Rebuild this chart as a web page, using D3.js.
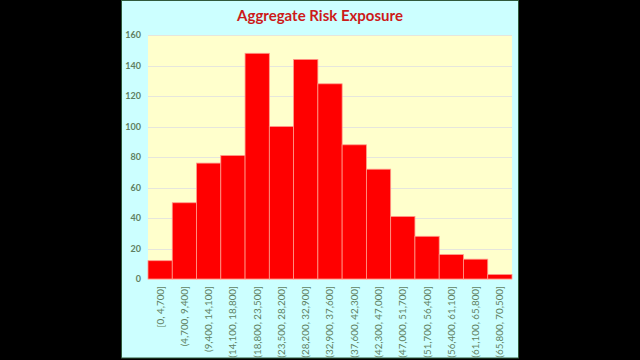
<!DOCTYPE html>
<html><head><meta charset="utf-8">
<script src="https://cdn.jsdelivr.net/npm/d3@7"></script>
<style>html,body{margin:0;padding:0;background:#000;}svg{display:block;}</style>
</head><body>
<svg id="c" width="640" height="360"></svg>
<script>
const categories = ["[0, 4,700]","(4,700, 9,400]","(9,400, 14,100]","(14,100, 18,800]","(18,800, 23,500]","(23,500, 28,200]","(28,200, 32,900]","(32,900, 37,600]","(37,600, 42,300]","(42,300, 47,000]","(47,000, 51,700]","(51,700, 56,400]","(56,400, 61,100]","(61,100, 65,800]","(65,800, 70,500]"];
const counts = [12, 50, 76, 81, 148, 100, 144, 128, 88, 72, 41, 28, 16, 13, 3];
const yTicks = [0, 20, 40, 60, 80, 100, 120, 140, 160];
const title = "Aggregate Risk Exposure";

const svg = d3.select("#c");
svg.append("rect").attr("x",0).attr("y",0).attr("width",640).attr("height",360).attr("fill","#000");
svg.append("rect").attr("x",121.5).attr("y",0.5).attr("width",397).attr("height",357.5)
  .attr("fill","#ccffff").attr("stroke","#2f5a3c").attr("stroke-width",1);

const m = {l:148, r:512, t:35, b:279};
const x = d3.scaleBand().domain(categories).range([m.l, m.r]).padding(0);
const y = d3.scaleLinear().domain([0,160]).range([m.b, m.t]);

svg.append("rect").attr("x",m.l).attr("y",m.t).attr("width",m.r-m.l).attr("height",m.b-m.t).attr("fill","#ffffcc");

svg.append("g").selectAll("line").data(yTicks).join("line")
  .attr("x1",m.l).attr("x2",m.r).attr("y1",d=>Math.round(y(d))+0.5).attr("y2",d=>Math.round(y(d))+0.5)
  .attr("stroke","#e6e6dc").attr("stroke-width",1);

svg.append("g").selectAll("rect").data(counts).join("rect")
  .attr("x",(d,i)=>x(categories[i])).attr("width",x.bandwidth())
  .attr("y",d=>y(d)).attr("height",d=>y(0)-y(d))
  .attr("fill","#ff0000").attr("stroke","#ff9a8a").attr("stroke-width",0.8);

const yAxis = d3.axisLeft(y).tickValues(yTicks).tickSize(0).tickPadding(7);
const gy = svg.append("g").attr("transform",`translate(${m.l},0)`).call(yAxis);
gy.select(".domain").remove();
gy.selectAll("text").attr("fill","#5f7f62").attr("font-family","Lato, 'Open Sans', sans-serif").attr("font-size",9).attr("font-weight","bold");

const xAxis = d3.axisBottom(x).tickSize(0).tickPadding(0);
const gx = svg.append("g").attr("transform",`translate(0,${m.b})`).call(xAxis);
gx.select(".domain").remove();
gx.selectAll("text").attr("fill","#5f7f62").attr("font-family","Lato, 'Open Sans', sans-serif").attr("font-size",9.8)
  .attr("transform","rotate(-90)").attr("text-anchor","end").attr("x",-7).attr("y",0).attr("dy","0.35em");

svg.append("text").attr("x",320).attr("y",21).attr("text-anchor","middle")
  .attr("font-family","Lato, 'Open Sans', sans-serif").attr("font-weight","bold").attr("font-size",15)
  .attr("fill","#cc1a1a").text(title);
</script>
</body></html>
